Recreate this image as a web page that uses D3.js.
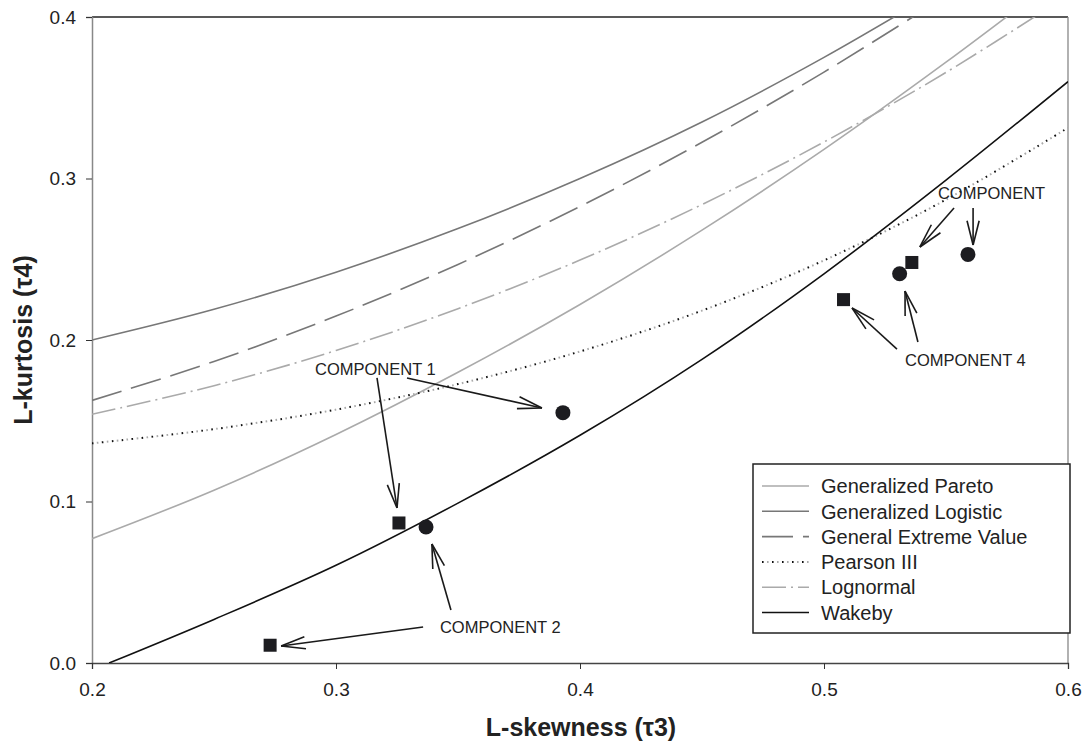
<!DOCTYPE html>
<html>
<head>
<meta charset="utf-8">
<script src="https://cdn.jsdelivr.net/npm/d3@7"></script>
<style>
  body { margin: 0; background: #fff; }
  svg text { font-family: "Liberation Sans", Arial, Helvetica, sans-serif; fill: #222; }
</style>
</head>
<body>
<div class="chart"></div>
<script>
// tau3 grid the curves were read at
const tau3 = [0.2, 0.25, 0.3, 0.35, 0.4, 0.45, 0.5, 0.55, 0.6];

// tau4 values for each curve
const paretoT4   = [0.077, 0.107, 0.1415, 0.180, 0.222, 0.268, 0.318, 0.372, 0.429];
const logisticT4 = [0.200, 0.219, 0.242, 0.269, 0.300, 0.335, 0.375, 0.419];
const gevT4      = [0.1626, 0.1867, 0.2148, 0.2468, 0.2827, 0.3224, 0.3659, 0.413];
const pearsonT4  = [0.136, 0.1448, 0.1569, 0.1727, 0.1929, 0.2182, 0.2493, 0.2869, 0.3314];
const lognormT4  = [0.154, 0.1717, 0.1935, 0.2194, 0.2495, 0.2839, 0.3226, 0.3657, 0.4134];
const wakebyT3   = [0.207, 0.25, 0.3, 0.35, 0.4, 0.45, 0.5, 0.55, 0.6];
const wakebyT4   = [0.0, 0.027, 0.0605, 0.099, 0.141, 0.188, 0.241, 0.299, 0.360];

// sample points
const squares = [[0.273, 0.011], [0.3258, 0.0867], [0.508, 0.225], [0.536, 0.248]];
const circles = [[0.3369, 0.0842], [0.393, 0.155], [0.531, 0.241], [0.559, 0.253]];

// annotation labels: text, tau3 of left edge, tau4 of middle
const labels = [
  ["COMPONENT 1", 0.2914, 0.182],
  ["COMPONENT 2", 0.3426, 0.0223],
  ["COMPONENT 4", 0.5332, 0.1876],
  ["COMPONENT", 0.5467, 0.291]
];
// arrows: from [tau3, tau4] to [tau3, tau4]
const arrows = [
  [[0.3291, 0.1765], [0.3844, 0.1579]],
  [[0.3168, 0.1765], [0.3250, 0.0960]],
  [[0.3357, 0.0223], [0.2775, 0.0105]],
  [[0.3471, 0.0328], [0.3393, 0.0737]],
  [[0.5299, 0.1944], [0.5115, 0.2198]],
  [[0.5385, 0.1988], [0.5332, 0.2303]],
  [[0.5533, 0.2817], [0.5393, 0.2576]],
  [[0.5611, 0.2817], [0.5611, 0.2588]]
];

const xTicks = [0.2, 0.3, 0.4, 0.5, 0.6];
const yTicks = [0.0, 0.1, 0.2, 0.3, 0.4];

const series = [
  { name: "Generalized Pareto", x: tau3, y: paretoT4, color: "#aaa", dash: null },
  { name: "Generalized Logistic", x: tau3, y: logisticT4, color: "#777", dash: null },
  { name: "General Extreme Value", x: tau3, y: gevT4, color: "#777", dash: "31,10" },
  { name: "Pearson III", x: tau3, y: pearsonT4, color: "#111", dash: "dots" },
  { name: "Lognormal", x: tau3, y: lognormT4, color: "#aaa", dash: "24,5,2,5" },
  { name: "Wakeby", x: wakebyT3, y: wakebyT4, color: "#111", dash: null }
];

const W = 1084, H = 742;
const margin = { top: 17, right: 16, bottom: 79, left: 92 };
const cw = W - margin.left - margin.right;
const ch = H - margin.top - margin.bottom;

const svg = d3.select(".chart").append("svg").attr("width", W).attr("height", H);
const g = svg.append("g").attr("transform", `translate(${margin.left},${margin.top})`);

const x = d3.scaleLinear().domain([0.2, 0.6]).range([0, cw]);
const y = d3.scaleLinear().domain([0, 0.4]).range([ch, 0]);

svg.append("defs").append("clipPath").attr("id", "plot")
  .append("rect").attr("width", cw).attr("height", ch);

// frame: top black, left/right gray
g.append("line").attr("x1", 0).attr("x2", cw).attr("y1", 0).attr("y2", 0)
  .attr("stroke", "#222").attr("stroke-width", 1.3);
g.append("line").attr("x1", cw).attr("x2", cw).attr("y1", 0).attr("y2", ch)
  .attr("stroke", "#888").attr("stroke-width", 1.3);

// axes
const yAxis = g.append("g").call(d3.axisLeft(y).tickValues(yTicks).tickFormat(d3.format(".1f")).tickSize(6).tickPadding(10));
yAxis.select(".domain").attr("stroke", "#888").attr("stroke-width", 1.5);
yAxis.selectAll(".tick line").attr("stroke", "#333");
yAxis.selectAll(".tick text").style("font-size", "19px").attr("fill", "#222");

const xAxis = g.append("g").attr("transform", `translate(0,${ch})`)
  .call(d3.axisBottom(x).tickValues(xTicks).tickFormat(d3.format(".1f")).tickSize(6).tickPadding(14));
xAxis.select(".domain").attr("stroke", "#444").attr("stroke-width", 1.3);
xAxis.selectAll(".tick line").attr("stroke", "#333");
xAxis.selectAll(".tick text").style("font-size", "19px").attr("fill", "#222");

// axis titles
svg.append("text").attr("x", margin.left + x(0.4) + 1).attr("y", 736)
  .attr("text-anchor", "middle").style("font-size", "25px").style("font-weight", "bold")
  .text("L-skewness (τ3)");
svg.append("text").attr("transform", `translate(32,${margin.top + ch / 2}) rotate(-90)`)
  .attr("text-anchor", "middle").style("font-size", "25px").style("font-weight", "bold")
  .text("L-kurtosis (τ4)");

// curves
const line = d3.line().x(d => x(d[0])).y(d => y(d[1])).curve(d3.curveCatmullRom);
const curves = g.append("g").attr("clip-path", "url(#plot)");

function strokeSeries(sel, s) {
  if (s.dash === "dots") {
    sel.attr("stroke", "#111").attr("stroke-width", 2).attr("stroke-dasharray", "1.6,8.4");
  } else {
    sel.attr("stroke", s.color).attr("stroke-width", 1.6);
    if (s.dash) sel.attr("stroke-dasharray", s.dash);
  }
}

series.forEach(s => {
  const pts = s.x.map((v, i) => [v, s.y[i]]).filter(p => p[1] !== undefined);
  if (s.dash === "dots") {
    curves.append("path").datum(pts).attr("d", line).attr("fill", "none")
      .attr("stroke", "#aaa").attr("stroke-width", 2)
      .attr("stroke-dasharray", "1.6,8.4").attr("stroke-dashoffset", -5);
  }
  strokeSeries(curves.append("path").datum(pts).attr("d", line).attr("fill", "none"), s);
});

// arrows
const ann = g.append("g");
const headLen = 25, headAng = 14 * Math.PI / 180;
arrows.forEach(([from, to]) => {
  const x1 = x(from[0]), y1 = y(from[1]), x2 = x(to[0]), y2 = y(to[1]);
  const a = Math.atan2(y1 - y2, x1 - x2);
  ann.append("line").attr("x1", x1).attr("y1", y1).attr("x2", x2).attr("y2", y2)
    .attr("stroke", "#1a1a1a").attr("stroke-width", 1.6);
  [-headAng, headAng].forEach(da => {
    ann.append("line").attr("x1", x2).attr("y1", y2)
      .attr("x2", x2 + headLen * Math.cos(a + da)).attr("y2", y2 + headLen * Math.sin(a + da))
      .attr("stroke", "#1a1a1a").attr("stroke-width", 1.6);
  });
});

labels.forEach(([t, lx, ly]) => {
  ann.append("text").attr("x", x(lx)).attr("y", y(ly)).attr("dy", "0.36em")
    .style("font-size", "16.5px").text(t);
});

// markers
g.selectAll(".sq").data(squares).join("rect").attr("class", "sq")
  .attr("x", d => x(d[0]) - 6.5).attr("y", d => y(d[1]) - 6.5)
  .attr("width", 13).attr("height", 13).attr("fill", "#1c1c20");
g.selectAll(".ci").data(circles).join("circle").attr("class", "ci")
  .attr("cx", d => x(d[0])).attr("cy", d => y(d[1])).attr("r", 7.5).attr("fill", "#1c1c20");

// legend
const lg = svg.append("g").attr("transform", "translate(753,464)");
lg.append("rect").attr("width", 317).attr("height", 169).attr("fill", "#fff")
  .attr("stroke", "#222").attr("stroke-width", 1.5);
series.forEach((s, i) => {
  const ly = 22 + i * 25.3;
  if (s.dash === "dots") {
    lg.append("line").attr("x1", 9).attr("x2", 56).attr("y1", ly).attr("y2", ly)
      .attr("stroke", "#aaa").attr("stroke-width", 2)
      .attr("stroke-dasharray", "1.6,8.4").attr("stroke-dashoffset", -5);
  }
  strokeSeries(lg.append("line").attr("x1", 9).attr("x2", 56).attr("y1", ly).attr("y2", ly), s);
  lg.append("text").attr("x", 68).attr("y", ly).attr("dy", "0.36em")
    .style("font-size", "20px").text(s.name);
});
</script>
</body>
</html>
